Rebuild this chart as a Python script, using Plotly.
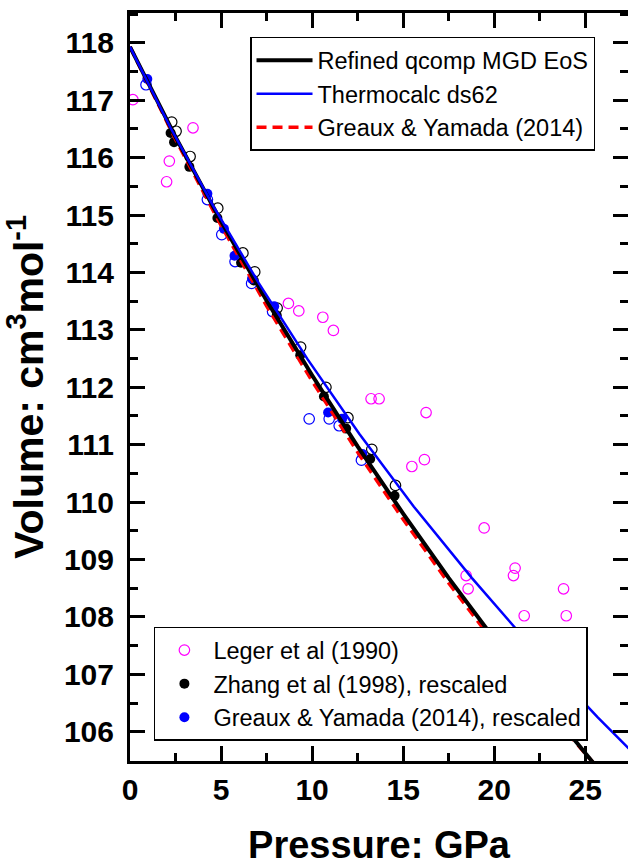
import plotly.graph_objects as go

# ---- model curves ----
P_mgd = [0, 2.5, 5, 7.5, 10, 12.5, 15, 17.5, 20, 22.5, 25, 26]
V_mgd = [117.93, 116.36, 114.89, 113.51, 112.21, 110.97, 109.80, 108.68, 107.62, 106.60, 105.63, 105.24]

P_gy = [0, 2.5, 5, 7.5, 10, 12.5, 15, 17.5, 20, 22.5, 25, 26]
V_gy = [117.93, 116.32, 114.82, 113.42, 112.11, 110.87, 109.70, 108.59, 107.55, 106.55, 105.62, 105.26]

P_ds62 = [0, 2.21, 4.57, 7.08, 9.75, 12.59, 15.59, 18.77, 22.14, 25.69, 27.54]
V_ds62 = [117.93, 116.53, 115.16, 113.81, 112.49, 111.19, 109.92, 108.68, 107.45, 106.25, 105.66]

# ---- experimental data ----
P_leger = [0.16, 3.46, 2.16, 2.01, 8.70, 9.27, 10.59, 11.17, 13.24, 13.68, 16.26,
           16.17, 15.48, 19.45, 21.15, 21.06, 18.46, 18.57, 23.81, 21.65, 23.96]
V_leger = [117.01, 116.52, 115.94, 115.58, 113.46, 113.33, 113.22, 112.99, 111.80, 111.80, 111.56,
           110.74, 110.62, 109.55, 108.85, 108.72, 108.72, 108.49, 108.49, 108.02, 108.02]

P_zhang_raw = [2.29, 2.53, 3.30, 4.82, 6.20, 6.85, 8.08, 9.37, 10.76, 11.97, 13.28, 14.58]
V_zhang_raw = [116.62, 116.46, 116.02, 115.12, 114.34, 114.01, 113.38, 112.70, 112.00, 111.47, 110.92, 110.29]

P_zhang = [2.23, 2.42, 3.26, 4.80, 6.10, 6.80, 8.06, 9.35, 10.65, 11.87, 13.19, 14.53]
V_zhang = [116.43, 116.27, 115.84, 114.95, 114.17, 113.86, 113.25, 112.56, 111.84, 111.28, 110.75, 110.11]

P_gr_raw = [0.88, 4.25, 5.04, 5.77, 6.68, 7.83, 9.84, 10.94, 11.49, 12.71]
V_gr_raw = [117.27, 115.27, 114.66, 114.19, 113.81, 113.32, 111.45, 111.45, 111.33, 110.73]

P_gr = [0.95, 4.25, 5.16, 5.74, 6.70, 7.92, 10.88, 11.65, 12.76]
V_gr = [117.37, 115.37, 114.76, 114.29, 113.89, 113.41, 111.56, 111.45, 110.84]

FONT = "Liberation Sans, Arial, sans-serif"

fig = go.Figure()

# markers
fig.add_trace(go.Scatter(x=P_zhang_raw, y=V_zhang_raw, mode="markers", showlegend=False,
                         marker=dict(symbol="circle-open", size=10.5, color="black", line=dict(width=1.2))))
fig.add_trace(go.Scatter(x=P_gr_raw, y=V_gr_raw, mode="markers", showlegend=False,
                         marker=dict(symbol="circle-open", size=10.5, color="#0000FF", line=dict(width=1.2))))
fig.add_trace(go.Scatter(x=P_leger, y=V_leger, mode="markers", name="Leger et al (1990)", legend="legend2",
                         marker=dict(symbol="circle-open", size=10.5, color="#FF00FF", line=dict(width=1.2))))
fig.add_trace(go.Scatter(x=P_zhang, y=V_zhang, mode="markers", name="Zhang et al (1998), rescaled", legend="legend2",
                         marker=dict(symbol="circle", size=10, color="black")))
fig.add_trace(go.Scatter(x=P_gr, y=V_gr, mode="markers", name="Greaux & Yamada (2014), rescaled", legend="legend2",
                         marker=dict(symbol="circle", size=10, color="#0000FF")))

# lines
fig.add_trace(go.Scatter(x=P_gy, y=V_gy, mode="lines", name="Greaux & Yamada (2014)", legend="legend",
                         line=dict(color="#FF0000", width=3.5, dash="10px,6px"), legendrank=3))
fig.add_trace(go.Scatter(x=P_mgd, y=V_mgd, mode="lines", name="Refined qcomp MGD EoS", legend="legend",
                         line=dict(color="black", width=4), legendrank=1))
fig.add_trace(go.Scatter(x=P_ds62, y=V_ds62, mode="lines", name="Thermocalc ds62", legend="legend",
                         line=dict(color="#0000FF", width=2.5), legendrank=2))

axis_common = dict(
    showline=True, linecolor="black", linewidth=3, mirror="ticks",
    ticks="inside", ticklen=15, tickwidth=3, tickcolor="black",
    showgrid=False, zeroline=False, automargin=False,
    tickfont=dict(family=FONT, size=30, color="black", weight="bold"),
)

fig.update_xaxes(range=[0, 27.35], dtick=5, tick0=0, ticklabelstandoff=0,
                 minor=dict(ticks="inside", ticklen=8, tickwidth=2.5, dtick=2.5, tickcolor="black"),
                 title=dict(text="Pressure: GPa", standoff=44,
                            font=dict(family=FONT, size=38, color="black", weight="bold")),
                 **axis_common)
fig.update_yaxes(range=[105.49, 118.52], dtick=1, tick0=106, ticklabelstandoff=7,
                 minor=dict(ticks="inside", ticklen=8, tickwidth=2.5, dtick=0.5, tickcolor="black"),
                 title=dict(text="Volume: cm<sup>3</sup>mol<sup>-1</sup>", standoff=8,
                            font=dict(family=FONT, size=41, color="black", weight="bold")),
                 **axis_common)

fig.update_layout(
    width=628, height=866,
    margin=dict(l=130, r=0, t=13, b=105),
    plot_bgcolor="white", paper_bgcolor="white",
    legend=dict(x=0.241, y=0.968, xanchor="left", yanchor="top",
                bgcolor="white", bordercolor="black", borderwidth=1.5,
                font=dict(family=FONT, size=23.5, color="black"),
                itemwidth=56, tracegroupgap=0, traceorder="normal"),
    legend2=dict(x=0.048, y=0.027, xanchor="left", yanchor="bottom",
                 bgcolor="white", bordercolor="black", borderwidth=1.5,
                 font=dict(family=FONT, size=23.5, color="black"),
                 itemwidth=48, traceorder="normal"),
)

fig.write_html("out.html", config={"displayModeBar": False},
               post_script="document.body.style.margin='0';")
